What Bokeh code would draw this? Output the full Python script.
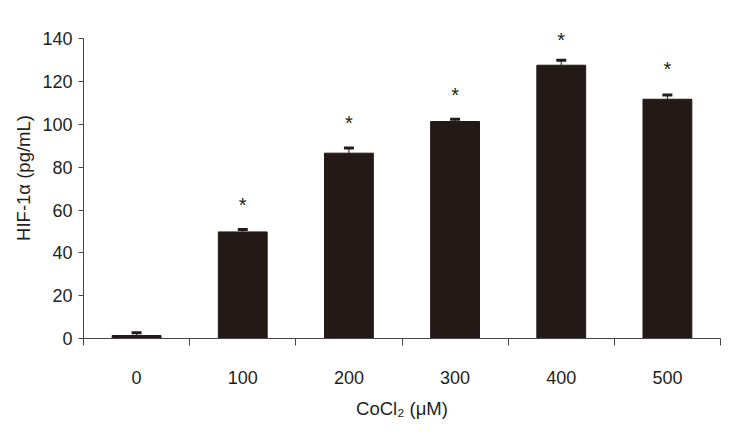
from bokeh.plotting import figure
from bokeh.models import Range1d, FixedTicker, ColumnDataSource
from bokeh.core.properties import value
from bokeh.embed import file_html
from bokeh.resources import INLINE

categories = ["0", "100", "200", "300", "400", "500"]
hif_values = [1.4, 49.8, 86.6, 101.4, 127.7, 111.8]
hif_errors = [1.3, 1.1, 2.4, 1.1, 2.3, 2.0]
significant = [False, True, True, True, True, True]
star_heights = [0, 63.5, 101.7, 114.9, 140.6, 126.9]
x_title = "CoCl\u2082 (\u03bcM)"
y_title = "HIF-1\u03b1 (pg/mL)"

FONT = "Liberation Sans"
BAR = "#231916"
TXT = "#231f20"

xs = [i + 0.5 for i in range(len(categories))]
src = ColumnDataSource(dict(
    x=xs, top=hif_values,
    err_top=[v + e for v, e in zip(hif_values, hif_errors)],
))
star_src = ColumnDataSource(dict(
    x=[x for x, s in zip(xs, significant) if s],
    y=[h for h, s in zip(star_heights, significant) if s],
    t=["*" for s in significant if s],
))

p = figure(width=726, height=431, output_backend="svg", toolbar_location=None,
           x_range=Range1d(0, len(categories)), y_range=Range1d(0, 150),
           min_border_left=83, min_border_right=6, min_border_top=17, min_border_bottom=93)
p.outline_line_color = None
p.grid.visible = False
p.background_fill_color = "white"
p.border_fill_color = "white"

p.vbar(x="x", top="top", width=0.46, bottom=0, source=src, fill_color=BAR, line_color=BAR)
p.segment(x0="x", y0="top", x1="x", y1="err_top", source=src, line_color=BAR, line_width=1)
p.scatter(x="x", y="err_top", source=src, marker="dash", size=10, line_width=3, line_color=BAR)
p.text(x="x", y="y", text="t", source=star_src, text_align="center", text_baseline="alphabetic",
       text_font=value(FONT), text_font_size="20px", text_color=TXT, y_offset=2)

# x axis
xa = p.xaxis[0]
xa.ticker = FixedTicker(ticks=xs, minor_ticks=list(range(len(categories) + 1)))
xa.major_label_overrides = {x: c for x, c in zip(xs, categories)}
xa.major_tick_out = 0
xa.major_tick_in = 0
xa.minor_tick_out = 7
xa.minor_tick_in = 0
xa.minor_tick_line_color = "#444444"
xa.axis_line_color = "#444444"
xa.major_label_standoff = 25
xa.major_label_text_font = FONT
xa.major_label_text_font_size = "18px"
xa.major_label_text_color = TXT
xa.axis_label = x_title
xa.axis_label_text_font = FONT
xa.axis_label_text_font_size = "18.5px"
xa.axis_label_text_font_style = "normal"
xa.axis_label_text_color = TXT
xa.axis_label_standoff = 11

# y axis
ya = p.yaxis[0]
ya.bounds = (0, 140)
ya.ticker = FixedTicker(ticks=list(range(0, 141, 20)))
ya.major_tick_out = 5
ya.major_tick_in = 0
ya.minor_tick_line_color = None
ya.axis_line_color = "#444444"
ya.major_tick_line_color = "#444444"
ya.major_label_standoff = 6
ya.major_label_text_font = FONT
ya.major_label_text_font_size = "18px"
ya.major_label_text_color = TXT
ya.axis_label = y_title
ya.axis_label_text_font = FONT
ya.axis_label_text_font_size = "18.5px"
ya.axis_label_text_font_style = "normal"
ya.axis_label_text_color = TXT
ya.axis_label_standoff = 5

open("out.html", "w").write(file_html(p, INLINE))
